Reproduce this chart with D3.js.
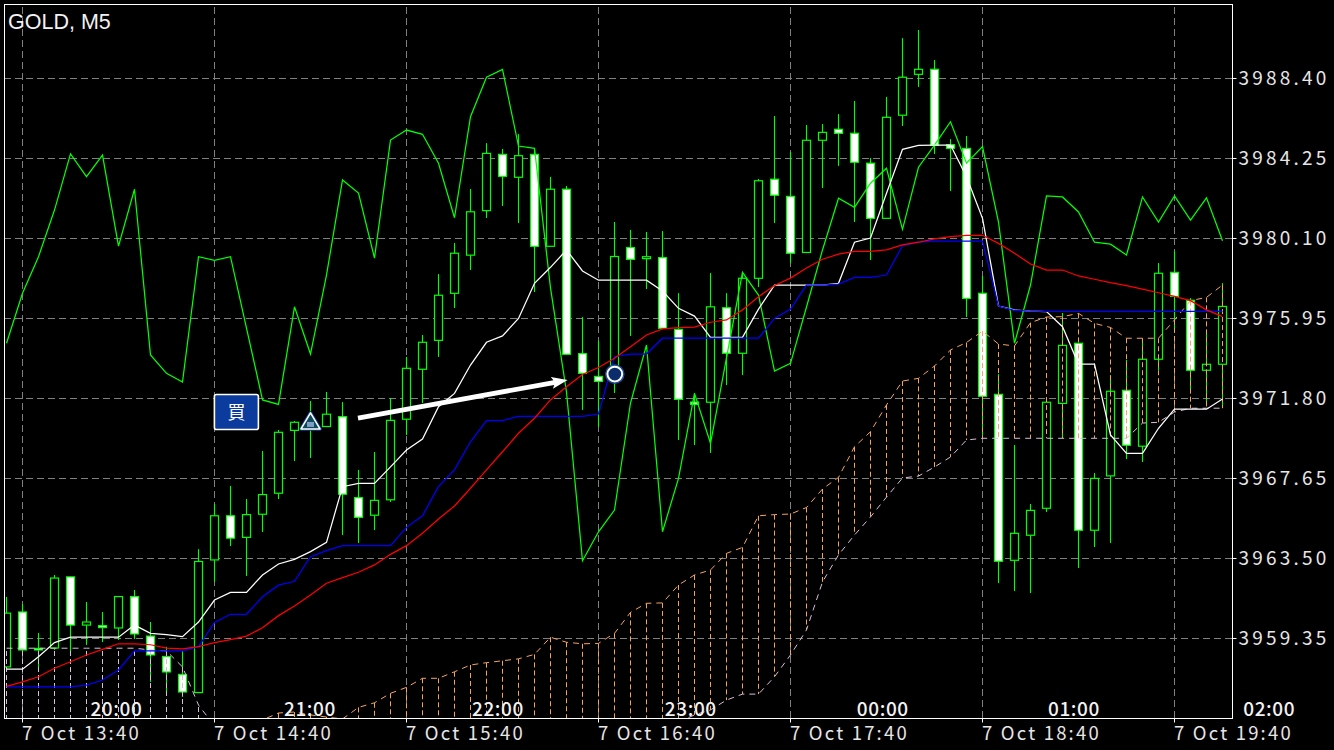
<!DOCTYPE html>
<html>
<head>
<meta charset="utf-8">
<title>GOLD, M5</title>
<script src="https://cdn.jsdelivr.net/npm/d3@7"></script>
<style>
    html, body { margin: 0; padding: 0; background: #000; }
    svg { display: block; }
    .price-axis text { font-family: "Noto Sans CJK JP", sans-serif; font-size: 19px; letter-spacing: 3.2px; fill: #e6e6e6; }
    .date-axis text { font-family: "Noto Sans CJK JP", sans-serif; font-size: 18.5px; letter-spacing: 2.2px; fill: #e6e6e6; }
    .hour-label { font-family: "Noto Sans CJK JP", sans-serif; font-size: 19px; font-weight: 500; letter-spacing: 0.6px; fill: #f2f2f2; }
    .title { font-family: "Liberation Sans", sans-serif; font-size: 21.5px; fill: #f2f2f2; }
</style>
</head>
<body>
<div id="chart"></div>
<script>
const symbolLabel = "GOLD, M5";
const priceTicks = [3959.35, 3963.50, 3967.65, 3971.80, 3975.95, 3980.10, 3984.25, 3988.40];
const dateTickBars = [1, 13, 25, 37, 49, 61, 73];
const dateTickLabels = ["7 Oct 13:40", "7 Oct 14:40", "7 Oct 15:40", "7 Oct 16:40", "7 Oct 17:40", "7 Oct 18:40", "7 Oct 19:40"];
const hourBars = [6.9, 19, 30.75, 42.8, 54.8, 66.75, 78.95];
const hourLabels = ["20:00", "21:00", "22:00", "23:00", "00:00", "01:00", "02:00"];

const highs = [3961.48, 3961.11, 3959.61, 3962.62, 3962.52, 3961.22, 3960.70, 3961.53, 3961.84, 3960.18, 3958.89, 3958.68, 3963.96, 3966.30, 3967.24, 3966.56, 3969.05, 3970.14, 3970.61, 3971.64, 3972.11, 3971.59, 3968.07, 3969.00, 3971.80, 3973.93, 3975.07, 3978.23, 3979.84, 3982.64, 3985.02, 3984.72, 3985.49, 3984.77, 3983.27, 3982.80, 3976.00, 3974.76, 3980.93, 3980.52, 3980.41, 3980.46, 3977.24, 3972.06, 3978.28, 3977.24, 3978.34, 3983.16, 3986.43, 3984.56, 3985.96, 3986.01, 3986.53, 3987.21, 3984.25, 3987.42, 3990.47, 3990.89, 3989.33, 3985.23, 3985.39, 3978.13, 3973.04, 3969.36, 3966.30, 3971.59, 3976.21, 3974.65, 3967.91, 3972.99, 3973.77, 3974.81, 3978.80, 3979.43, 3976.98, 3975.23, 3977.76];
const lows = [3957.69, 3958.68, 3957.59, 3958.73, 3958.42, 3958.99, 3959.14, 3959.25, 3959.30, 3957.07, 3956.39, 3956.29, 3956.52, 3962.26, 3964.12, 3962.57, 3964.85, 3966.56, 3968.53, 3968.69, 3970.32, 3964.69, 3964.28, 3964.95, 3966.41, 3969.88, 3971.54, 3973.93, 3976.47, 3978.44, 3981.14, 3981.76, 3980.88, 3977.30, 3979.66, 3974.06, 3971.18, 3970.30, 3972.06, 3975.02, 3977.45, 3975.41, 3969.62, 3969.36, 3968.95, 3972.47, 3972.99, 3977.56, 3980.88, 3978.80, 3979.35, 3982.69, 3983.84, 3980.93, 3978.96, 3981.11, 3985.91, 3987.94, 3984.46, 3982.54, 3976.00, 3969.88, 3962.20, 3961.79, 3961.68, 3965.89, 3969.72, 3962.98, 3964.07, 3964.28, 3968.63, 3968.48, 3973.25, 3975.33, 3972.22, 3971.44, 3971.28];
const opens = [3957.85, 3960.70, 3958.81, 3958.83, 3962.52, 3960.02, 3959.99, 3959.87, 3961.50, 3959.45, 3958.39, 3957.46, 3956.52, 3963.40, 3965.69, 3964.57, 3965.77, 3966.86, 3970.12, 3970.45, 3970.32, 3970.83, 3966.63, 3965.72, 3966.52, 3970.70, 3973.29, 3974.79, 3977.23, 3979.21, 3981.52, 3984.44, 3983.25, 3984.44, 3979.67, 3982.63, 3974.10, 3972.92, 3972.84, 3979.60, 3979.03, 3979.08, 3975.36, 3971.59, 3971.58, 3976.48, 3974.12, 3978.01, 3983.15, 3982.26, 3979.35, 3985.17, 3985.74, 3985.53, 3983.98, 3981.12, 3986.47, 3988.59, 3988.85, 3984.94, 3984.75, 3977.23, 3971.99, 3963.38, 3964.68, 3966.08, 3971.52, 3974.64, 3964.94, 3967.76, 3972.20, 3969.30, 3973.81, 3978.32, 3976.87, 3973.24, 3973.55];
const closes = [3960.64, 3958.73, 3958.73, 3962.46, 3960.02, 3960.18, 3959.89, 3961.50, 3959.56, 3958.47, 3957.59, 3956.55, 3963.32, 3965.69, 3964.53, 3965.75, 3966.79, 3970.02, 3970.54, 3970.71, 3970.96, 3966.81, 3965.61, 3966.49, 3970.64, 3973.34, 3974.69, 3977.13, 3979.31, 3981.46, 3984.49, 3983.30, 3984.37, 3979.67, 3982.63, 3974.07, 3973.08, 3972.66, 3979.14, 3978.99, 3979.13, 3975.42, 3971.73, 3971.47, 3976.53, 3974.12, 3978.01, 3983.07, 3982.32, 3979.31, 3985.17, 3985.58, 3985.53, 3984.03, 3981.12, 3986.36, 3988.44, 3988.85, 3984.91, 3984.75, 3976.97, 3971.89, 3963.33, 3964.78, 3965.97, 3971.58, 3974.53, 3964.94, 3967.63, 3972.15, 3969.35, 3973.81, 3978.27, 3977.07, 3973.24, 3973.55, 3976.55];

const tenkan = [3957.73, 3957.73, 3958.38, 3959.11, 3959.39, 3959.39, 3959.39, 3959.39, 3960.02, 3959.59, 3959.52, 3959.42, 3960.18, 3961.32, 3961.72, 3961.72, 3962.62, 3963.19, 3963.43, 3963.83, 3964.31, 3967.20, 3967.37, 3967.37, 3968.23, 3969.10, 3969.67, 3971.35, 3972.04, 3973.51, 3974.69, 3975.02, 3975.93, 3977.75, 3978.58, 3979.48, 3978.39, 3977.91, 3977.91, 3977.91, 3977.91, 3977.35, 3976.45, 3976.05, 3974.95, 3974.95, 3974.95, 3976.41, 3977.66, 3977.66, 3977.66, 3977.66, 3977.75, 3979.88, 3980.10, 3982.42, 3984.70, 3984.91, 3984.92, 3984.92, 3983.28, 3981.12, 3976.57, 3976.37, 3976.31, 3976.28, 3975.50, 3973.56, 3973.56, 3969.88, 3968.93, 3968.93, 3970.23, 3971.22, 3971.22, 3971.22, 3971.75];
const kijun = [3956.81, 3956.81, 3956.81, 3956.81, 3956.81, 3956.91, 3957.17, 3957.69, 3958.68, 3958.68, 3958.68, 3958.68, 3958.90, 3960.16, 3960.58, 3960.58, 3961.49, 3962.09, 3962.29, 3963.57, 3963.88, 3964.14, 3964.14, 3964.14, 3964.14, 3965.09, 3965.69, 3967.20, 3968.07, 3969.53, 3970.63, 3970.63, 3970.85, 3970.85, 3970.85, 3970.85, 3970.85, 3970.97, 3973.94, 3974.07, 3974.08, 3974.90, 3974.90, 3974.90, 3974.90, 3974.90, 3974.90, 3974.90, 3975.93, 3976.41, 3977.66, 3977.66, 3977.71, 3978.06, 3978.06, 3978.18, 3979.70, 3979.88, 3979.94, 3979.94, 3979.94, 3979.94, 3976.57, 3976.35, 3976.31, 3976.30, 3976.30, 3976.30, 3976.30, 3976.30, 3976.30, 3976.30, 3976.30, 3976.30, 3976.30, 3976.30, 3976.30];
const movingAverage = [3956.84, 3957.07, 3957.34, 3957.78, 3958.12, 3958.47, 3958.76, 3959.05, 3959.05, 3959.00, 3958.83, 3958.79, 3958.90, 3959.11, 3959.27, 3959.45, 3959.88, 3960.51, 3961.01, 3961.58, 3962.19, 3962.48, 3962.76, 3963.14, 3963.69, 3964.14, 3964.78, 3965.52, 3966.20, 3967.12, 3968.07, 3969.01, 3969.97, 3970.75, 3971.70, 3972.38, 3973.02, 3973.38, 3973.86, 3974.46, 3975.07, 3975.38, 3975.45, 3975.48, 3975.73, 3975.85, 3976.37, 3977.05, 3977.64, 3978.02, 3978.54, 3979.00, 3979.26, 3979.41, 3979.41, 3979.48, 3979.74, 3979.88, 3980.05, 3980.17, 3980.24, 3980.24, 3979.82, 3979.31, 3978.75, 3978.44, 3978.44, 3978.13, 3977.96, 3977.78, 3977.63, 3977.45, 3977.26, 3977.07, 3976.85, 3976.37, 3976.02];
const chikou = [3974.64, 3977.23, 3979.13, 3981.55, 3984.46, 3983.28, 3984.40, 3979.68, 3982.63, 3974.03, 3973.08, 3972.63, 3979.13, 3978.94, 3979.13, 3975.43, 3971.70, 3971.47, 3976.53, 3974.08, 3978.18, 3983.11, 3982.43, 3979.06, 3985.18, 3985.70, 3985.48, 3983.98, 3981.15, 3986.39, 3988.44, 3988.85, 3984.87, 3984.75, 3977.51, 3972.11, 3963.36, 3964.86, 3965.99, 3971.54, 3974.55, 3964.86, 3967.63, 3972.04, 3969.45, 3973.88, 3978.32, 3977.14, 3973.20, 3973.60, 3976.52, 3979.48, 3982.16, 3981.69, 3982.94, 3983.72, 3980.55, 3983.77, 3984.92, 3986.13, 3983.98, 3984.84, 3980.93, 3974.64, 3977.66, 3982.28, 3982.23, 3981.45, 3979.88, 3979.78, 3979.22, 3982.23, 3980.93, 3982.28, 3981.03, 3982.18, 3979.96];
// null = below the bottom of the chart, nothing to read there
const spanA = [null, null, null, null, null, null, null, null, null, null, null, null, null, null, null, 3954.79, 3955.10, 3955.46, 3955.51, 3955.36, 3955.25, 3955.15, 3955.75, 3955.99, 3956.48, 3956.79, 3957.26, 3957.26, 3957.60, 3957.95, 3958.07, 3958.17, 3958.27, 3958.50, 3959.39, 3959.13, 3959.05, 3959.07, 3959.59, 3960.68, 3961.15, 3961.17, 3962.10, 3962.62, 3962.88, 3963.74, 3964.05, 3965.69, 3965.75, 3965.78, 3966.12, 3967.08, 3967.68, 3969.27, 3970.05, 3971.44, 3972.68, 3972.82, 3973.46, 3974.29, 3974.68, 3975.27, 3974.60, 3974.50, 3975.71, 3976.00, 3976.02, 3976.19, 3975.67, 3975.46, 3974.90, 3974.90, 3974.90, 3975.85, 3976.85, 3977.02, 3977.66];
const spanB = [3958.82, 3958.82, 3958.82, 3958.82, 3958.82, 3958.82, 3958.82, 3958.82, 3958.82, 3958.73, 3958.68, 3957.85, 3955.87, 3954.79, null, null, null, null, null, null, null, null, null, null, null, null, null, null, null, null, null, null, null, null, null, null, null, null, null, null, null, null, 3954.99, 3955.36, 3955.62, 3956.13, 3956.44, 3956.44, 3957.34, 3958.47, 3959.77, 3962.26, 3963.66, 3964.69, 3965.63, 3966.66, 3967.65, 3967.75, 3968.22, 3968.74, 3969.62, 3969.71, 3969.71, 3969.71, 3969.71, 3969.71, 3969.71, 3969.71, 3969.71, 3969.71, 3969.71, 3970.50, 3970.54, 3971.07, 3971.27, 3971.27, 3971.27];

const buyLabel = "買";
const buyBoxBar = 14.4;
const buyBoxPrice = 3971.07;
const entryBar = 19;
const entryPrice = 3970.61;
const exitBar = 38.05;
const exitPrice = 3973.04;
const arrowFrom = { bar: 22, price: 3970.76 };
const arrowTo = { bar: 35.1, price: 3972.73 };

class CandleChart {
    constructor(_config) {
        this.config = {
            parentElement: _config.parentElement,
            containerWidth: _config.containerWidth || 1334,
            containerHeight: _config.containerHeight || 750,
            frame: { left: 4, right: 1232, top: 4, bottom: 718 },
        };
        this.initVis();
    }

    initVis() {
        let vis = this;
        const f = vis.config.frame;

        vis.svg = d3
            .select(vis.config.parentElement)
            .append("svg")
            .attr("width", vis.config.containerWidth)
            .attr("height", vis.config.containerHeight);

        vis.xScale = d3.scaleLinear().domain([0, 76]).range([6, 1222]);
        vis.yScale = d3.scaleLinear().domain([priceTicks[0], priceTicks[7]]).range([638, 78]);

        vis.svg.append("clipPath").attr("id", "plot-clip")
            .append("rect")
            .attr("x", f.left + 1).attr("y", f.top + 1)
            .attr("width", f.right - f.left - 1).attr("height", f.bottom - f.top - 1);

        vis.drawGrid();
        vis.plot = vis.svg.append("g").attr("clip-path", "url(#plot-clip)");
        vis.drawCandles();
        vis.drawCloud();
        vis.drawLines();
        vis.drawAxes();
        vis.drawMarkers();
    }

    drawGrid() {
        let vis = this;
        const f = vis.config.frame;
        const grid = vis.svg.append("g").attr("class", "grid");

        grid.append("g")
            .attr("transform", `translate(${f.right},0)`)
            .call(d3.axisLeft(vis.yScale).tickValues(priceTicks).tickSize(f.right - f.left).tickFormat(""));
        grid.append("g")
            .attr("transform", `translate(0,${f.bottom})`)
            .call(d3.axisTop(vis.xScale).tickValues(dateTickBars).tickSize(f.bottom - f.top).tickFormat(""));
        grid.selectAll(".domain").remove();
        grid.selectAll("line")
            .attr("stroke", "#808080")
            .attr("stroke-dasharray", "7 4");
    }

    drawCandles() {
        let vis = this;
        const candles = d3.range(opens.length);
        const px = (i) => Math.round(vis.xScale(i)) + 0.5;
        const group = vis.plot.append("g").attr("class", "candles");

        group.selectAll("line").data(candles).join("line")
            .attr("x1", px).attr("x2", px)
            .attr("y1", (i) => vis.yScale(highs[i]))
            .attr("y2", (i) => vis.yScale(lows[i]))
            .attr("stroke", "#00ff00")
            .attr("stroke-width", 1.1);

        group.selectAll("rect").data(candles).join("rect")
            .attr("x", (i) => px(i) - 4)
            .attr("width", 8)
            .attr("y", (i) => vis.yScale(Math.max(opens[i], closes[i])))
            .attr("height", (i) => Math.abs(vis.yScale(opens[i]) - vis.yScale(closes[i])))
            .attr("fill", (i) => (closes[i] < opens[i] ? "#fff" : "#000"))
            .attr("stroke", "#00ff00")
            .attr("stroke-width", 1.2);
    }

    drawCloud() {
        let vis = this;
        const f = vis.config.frame;
        const bars = d3.range(spanA.length);
        const py = (v) => (v === null ? f.bottom + 2 : vis.yScale(v));
        const group = vis.plot.append("g").attr("class", "cloud").attr("fill", "none");

        group.selectAll("line").data(bars).join("line")
            .attr("x1", (i) => Math.round(vis.xScale(i)) + 0.5)
            .attr("x2", (i) => Math.round(vis.xScale(i)) + 0.5)
            .attr("y1", (i) => py(spanA[i]))
            .attr("y2", (i) => py(spanB[i]))
            .attr("stroke", (i) => (spanA[i] !== null && (spanB[i] === null || spanA[i] > spanB[i]) ? "#f4a460" : "#d8bfd8"))
            .attr("stroke-dasharray", "5 3");

        const edge = d3.line()
            .defined((d) => d.v !== null)
            .x((d) => vis.xScale(d.i) + 0.5)
            .y((d) => vis.yScale(d.v));

        group.append("path")
            .attr("d", edge(bars.map((i) => ({ i, v: spanA[i] }))))
            .attr("stroke", "#f4a460")
            .attr("stroke-dasharray", "6 5");
        group.append("path")
            .attr("d", edge(bars.map((i) => ({ i, v: spanB[i] }))))
            .attr("stroke", "#d8bfd8")
            .attr("stroke-dasharray", "6 5");
    }

    drawLines() {
        let vis = this;
        const line = d3.line()
            .x((d, i) => vis.xScale(i) + 0.5)
            .y((d) => vis.yScale(d));
        const series = [
            { values: chikou, color: "#00ff00" },
            { values: tenkan, color: "#ffffff" },
            { values: kijun, color: "#0000ff" },
            { values: movingAverage, color: "#ff0000" },
        ];

        vis.plot.append("g").attr("class", "lines").selectAll("path").data(series).join("path")
            .attr("fill", "none")
            .attr("stroke", (d) => d.color)
            .attr("stroke-width", 1.25)
            .attr("d", (d) => line(d.values));
    }

    drawAxes() {
        let vis = this;
        const f = vis.config.frame;

        vis.svg.append("rect")
            .attr("x", f.left + 0.5).attr("y", f.top + 0.5)
            .attr("width", f.right - f.left).attr("height", f.bottom - f.top)
            .attr("fill", "none").attr("stroke", "#fff");

        const priceAxis = vis.svg.append("g")
            .attr("class", "price-axis")
            .attr("transform", `translate(${f.right + 0.5},0)`)
            .call(d3.axisRight(vis.yScale).tickValues(priceTicks).tickSize(4).tickPadding(2).tickFormat(d3.format(".2f")));
        const dateAxis = vis.svg.append("g")
            .attr("class", "date-axis")
            .attr("transform", `translate(0,${f.bottom + 0.5})`)
            .call(d3.axisBottom(vis.xScale).tickValues(dateTickBars).tickSize(4).tickPadding(4).tickFormat((d) => dateTickLabels[dateTickBars.indexOf(d)]));
        priceAxis.select(".domain").remove();
        dateAxis.select(".domain").remove();
        priceAxis.selectAll("line").attr("stroke", "#fff");
        dateAxis.selectAll("line").attr("stroke", "#fff");
        dateAxis.selectAll("text").attr("text-anchor", "start").attr("x", -0.5);

        vis.svg.selectAll(".hour-label").data(hourLabels).join("text")
            .attr("class", "hour-label")
            .attr("x", (d, i) => vis.xScale(hourBars[i]))
            .attr("y", 716)
            .attr("text-anchor", "middle")
            .text((d) => d);

        vis.svg.append("text")
            .attr("class", "title")
            .attr("x", 8)
            .attr("y", 29)
            .text(symbolLabel);
    }

    drawMarkers() {
        let vis = this;

        // white arrow between the entry and exit
        const x1 = vis.xScale(arrowFrom.bar), y1 = vis.yScale(arrowFrom.price);
        const x2 = vis.xScale(arrowTo.bar), y2 = vis.yScale(arrowTo.price);
        const angle = Math.atan2(y2 - y1, x2 - x1) * 180 / Math.PI;
        const length = Math.hypot(x2 - x1, y2 - y1);
        vis.svg.append("path")
            .attr("transform", `translate(${x1},${y1}) rotate(${angle})`)
            .attr("d", `M0,-2.4L${length - 14},-2.4L${length - 16},-6L${length},0L${length - 16},6L${length - 14},2.4L0,2.4Z`)
            .attr("fill", "#fff");

        // buy label
        const box = vis.svg.append("g")
            .attr("transform", `translate(${vis.xScale(buyBoxBar)},${vis.yScale(buyBoxPrice)})`);
        box.append("rect")
            .attr("x", -22).attr("y", -17.5).attr("width", 44).attr("height", 35).attr("rx", 2)
            .attr("fill", "#0c3b9e").attr("stroke", "#fff").attr("stroke-width", 1.6);
        box.append("text")
            .attr("text-anchor", "middle").attr("y", 7)
            .attr("font-family", "Noto Sans CJK JP").attr("font-size", 18).attr("fill", "#fff")
            .text(buyLabel);

        // entry triangle
        const tri = vis.svg.append("g")
            .attr("transform", `translate(${vis.xScale(entryBar) + 0.5},${vis.yScale(entryPrice)})`);
        tri.append("path").attr("d", "M0,-8L9.5,8L-9.5,8Z")
            .attr("fill", "#0c4a5a").attr("stroke", "#123a8a").attr("stroke-width", 3.6).attr("stroke-linejoin", "round");
        tri.append("path").attr("d", "M0,-8L9.5,8L-9.5,8Z")
            .attr("fill", "#0c4a5a").attr("stroke", "#fff").attr("stroke-width", 1.6).attr("stroke-linejoin", "round");
        tri.append("rect").attr("x", -3.5).attr("y", 1).attr("width", 7).attr("height", 5).attr("fill", "#7f9cc4");

        // exit circle
        const exit = vis.svg.append("g")
            .attr("transform", `translate(${vis.xScale(exitBar)},${vis.yScale(exitPrice)})`);
        exit.append("circle").attr("r", 9.2).attr("fill", "#0d2c6b").attr("stroke", "#1f4f9f").attr("stroke-width", 1.2);
        exit.append("circle").attr("r", 7.4).attr("fill", "#0d2c6b").attr("stroke", "#fff").attr("stroke-width", 2);
    }
}

new CandleChart({ parentElement: "#chart" });
</script>
</body>
</html>
